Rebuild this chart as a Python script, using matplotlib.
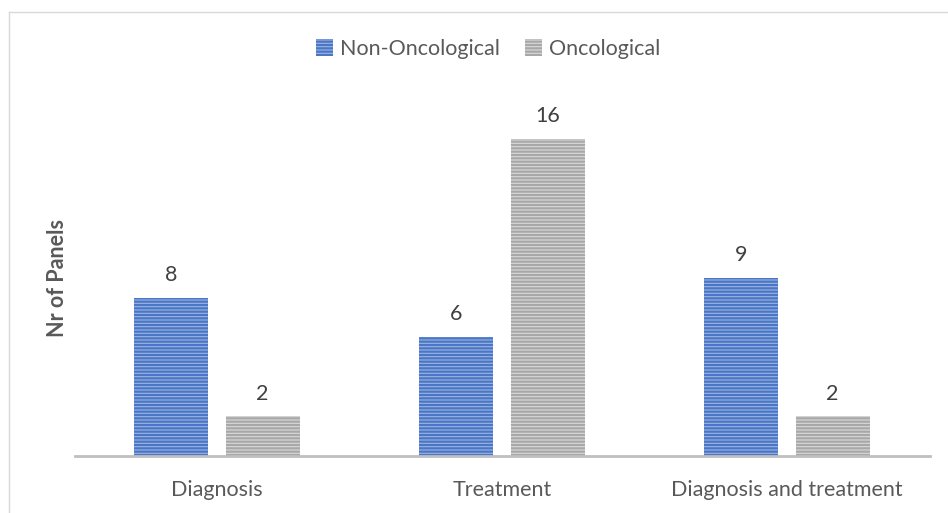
import matplotlib
matplotlib.use("Agg")
import matplotlib.pyplot as plt
import numpy as np
from matplotlib.lines import Line2D

categories = ["Diagnosis", "Treatment", "Diagnosis and treatment"]
series_names = ["Non-Oncological", "Oncological"]
non_onco = [8, 6, 9]
onco = [2, 16, 2]

plt.rcParams['font.family'] = ['Lato', 'DejaVu Sans']
plt.rcParams['hatch.linewidth'] = 1.6

fig = plt.figure(figsize=(9.48, 5.13), dpi=100)
W, H = 948, 513
x0, x1 = 74.5, 929.5
ybase, ytop = 456, 99.6
ax = fig.add_axes([x0 / W, 1 - ybase / H, (x1 - x0) / W, (ybase - ytop) / H])

x = np.arange(len(categories))
bw = 0.26
gap = 0.06
off = (bw + gap) / 2
b1 = ax.bar(x - off, non_onco, bw, facecolor='#9db4e0', edgecolor='#4a76c6',
            hatch='-----', linewidth=0, label=series_names[0])
b2 = ax.bar(x + off, onco, bw, facecolor='#d9d9d9', edgecolor='#a8a8a8',
            hatch='-----', linewidth=0, label=series_names[1])

for bars, vals in ((b1, non_onco), (b2, onco)):
    for r, v in zip(bars, vals):
        ax.text(r.get_x() + r.get_width() / 2, v + 0.65, str(v), ha='center', va='bottom',
                fontsize=15.5, color='#404040')

ax.set_xlim(-0.5, 2.5)
ax.set_ylim(0, 18)
ax.set_xticks(x)
ax.set_xticklabels(categories, fontsize=15.5, color='#595959')
ax.tick_params(axis='x', length=0, pad=17)
ax.set_yticks([])
for s in ('top', 'right', 'left'):
    ax.spines[s].set_visible(False)
ax.spines['bottom'].set_color('#bfbfbf')
ax.spines['bottom'].set_linewidth(2)
ax.set_ylabel("Nr of Panels", fontsize=15.5, fontweight='bold', color='#595959')
ax.yaxis.set_label_coords(-0.008, 0.5)

leg = fig.legend(handles=[b1, b2], labels=series_names, loc='center', ncol=2,
                 bbox_to_anchor=(488 / W, 1 - 49 / H), frameon=False, fontsize=15.5,
                 handlelength=0.8, handleheight=0.8, handletextpad=0.3, columnspacing=1.2)
for t in leg.get_texts():
    t.set_color('#595959')

fig.add_artist(Line2D([9 / W, 9 / W], [0, 1 - 12 / H], transform=fig.transFigure,
                      color='#d9d9d9', linewidth=1))
fig.add_artist(Line2D([9 / W, 1], [1 - 12 / H, 1 - 12 / H], transform=fig.transFigure,
                      color='#d9d9d9', linewidth=1))

fig.savefig("out.png", dpi=100)
